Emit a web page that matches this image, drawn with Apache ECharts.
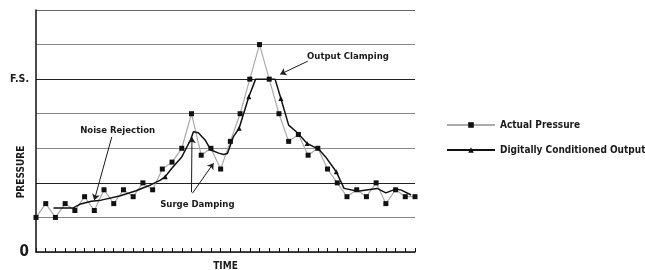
<!DOCTYPE html>
<html>
<head>
<meta charset="UTF-8">
<title>Pressure</title>
<script src="https://cdn.jsdelivr.net/npm/echarts@6/dist/echarts.min.js"></script>
</head>
<body style="margin:0;">
<div id="chart" style="width:645px;height:270px;"></div>
<script>
var FONT = "'Liberation Sans Narrow', 'DejaVu Sans Condensed', sans-serif";

// actual pressure, one reading per time step (0..39)
var pressureVals = [1.0, 1.4, 1.0, 1.4, 1.2, 1.6, 1.2, 1.8, 1.4, 1.8,
                    1.6, 2.0, 1.8, 2.4, 2.6, 3.0, 4.0, 2.8, 3.0, 2.4,
                    3.2, 4.0, 5.0, 6.0, 5.0, 4.0, 3.2, 3.4, 2.8, 3.0,
                    2.4, 2.0, 1.6, 1.8, 1.6, 2.0, 1.4, 1.8, 1.6, 1.6];

// conditioned output, corners of the line
var outTime = [1.8, 3.8, 4.5, 5.7, 6.7, 8.6, 10.3, 11.0, 11.8, 12.8,
               13.3, 14.0, 15.0, 15.9, 16.2, 16.7, 17.4, 18.0, 18.8, 19.3,
               19.7, 20.3, 20.9, 21.9, 22.6, 24.6, 25.2, 26.0, 26.9, 27.9,
               29.1, 29.8, 30.9, 31.7, 33.1, 35.1, 36.0, 37.0, 37.6, 38.6];
var outVals = [1.27, 1.27, 1.38, 1.47, 1.5, 1.62, 1.77, 1.85, 1.94, 2.08,
               2.18, 2.43, 2.75, 3.24, 3.48, 3.45, 3.24, 2.95, 2.86, 2.82,
               2.85, 3.33, 3.58, 4.49, 5.0, 5.0, 4.44, 3.67, 3.45, 3.14,
               2.97, 2.75, 2.32, 1.84, 1.76, 1.84, 1.71, 1.82, 1.79, 1.65];
var outMarks = [10, 22, 23, 26, 29, 32];

var yLabels = {0: '{z|0}', 5: '{f|F.S.}'};

var noteText = ['Noise Rejection', 'Surge Damping', 'Output Clamping'];
var noteAt = [[8.4, 3.5], [16.6, 1.36], [32.1, 5.64]];
var arrowFrom = [[7.8, 3.33], [16.0, 1.73], [16.1, 1.7], [27.97, 5.52]];
var arrowTo = [[6.0, 1.5], [16.05, 3.32], [18.27, 2.57], [25.13, 5.14]];

var chart = echarts.init(document.getElementById('chart'));

var option = {
    animation: false,
    grid: {left: 36, right: 230, top: 10, bottom: 18, outerBoundsMode: 'none'},
    legend: {
        orient: 'vertical',
        left: 441, top: 113,
        itemWidth: 48, itemHeight: 7, itemGap: 11,
        textStyle: {fontFamily: FONT, fontWeight: 'bold', fontSize: 10, color: '#1a1a1a', lineHeight: 14},
        data: ['Actual Pressure', 'Digitally Conditioned Output']
    },
    xAxis: {
        type: 'value', min: 0, max: 39, interval: 1,
        name: 'TIME', nameLocation: 'middle', nameGap: 9,
        nameTextStyle: {fontFamily: FONT, fontWeight: 'bold', fontSize: 10, color: '#1a1a1a'},
        axisLine: {lineStyle: {color: '#111', width: 1.5}},
        axisTick: {inside: true, length: 4, lineStyle: {color: '#111'}},
        axisLabel: {show: false},
        splitLine: {show: false}
    },
    yAxis: {
        type: 'value', min: 0, max: 7, interval: 1,
        axisLine: {show: true, lineStyle: {color: '#111', width: 1.5}},
        axisTick: {show: false},
        axisLabel: {
            margin: 7,
            formatter: function (v) { return yLabels[v] || ''; },
            rich: {
                z: {fontFamily: FONT, fontWeight: 'bold', fontSize: 15, color: '#1a1a1a'},
                f: {fontFamily: FONT, fontWeight: 'bold', fontSize: 10.5, color: '#1a1a1a'}
            }
        },
        splitLine: {lineStyle: {color: ['#888', '#888', '#222', '#888', '#888', '#222', '#888', '#666'], width: 1.2}}
    },
    graphic: [{
        type: 'text', x: 21, y: 172, rotation: Math.PI / 2,
        style: {text: 'PRESSURE', font: 'bold 10px ' + FONT, fill: '#1a1a1a', textAlign: 'center', textVerticalAlign: 'middle'}
    }],
    series: [{
        name: 'Actual Pressure',
        type: 'line',
        symbol: 'rect', symbolSize: 5,
        lineStyle: {color: '#aaa', width: 1.2},
        itemStyle: {color: '#111'},
        data: pressureVals.map(function (v, i) { return [i, v]; }),
        markLine: {
            silent: true,
            symbol: ['none', 'arrow'], symbolSize: 6,
            label: {show: false},
            lineStyle: {color: '#1a1a1a', width: 1, type: 'solid'},
            data: arrowFrom.map(function (p, i) { return [{coord: p}, {coord: arrowTo[i]}]; })
        },
        markPoint: {
            silent: true,
            symbol: 'circle', symbolSize: 1,
            itemStyle: {color: 'rgba(0,0,0,0)'},
            label: {show: true, position: 'inside', formatter: '{b}',
                fontFamily: FONT, fontWeight: 'bold', fontSize: 9.5, color: '#1a1a1a'},
            data: noteText.map(function (t, i) { return {name: t, coord: noteAt[i]}; })
        },
        z: 2
    }, {
        name: 'Digitally Conditioned Output',
        type: 'line',
        symbol: 'triangle', symbolSize: 5,
        lineStyle: {color: '#111', width: 1.5},
        itemStyle: {color: '#111'},
        data: outTime.map(function (t, i) {
            return {value: [t, outVals[i]], symbol: outMarks.indexOf(i) >= 0 ? 'triangle' : 'none'};
        }),
        z: 3
    }]
};

chart.setOption(option);
</script>
</body>
</html>
